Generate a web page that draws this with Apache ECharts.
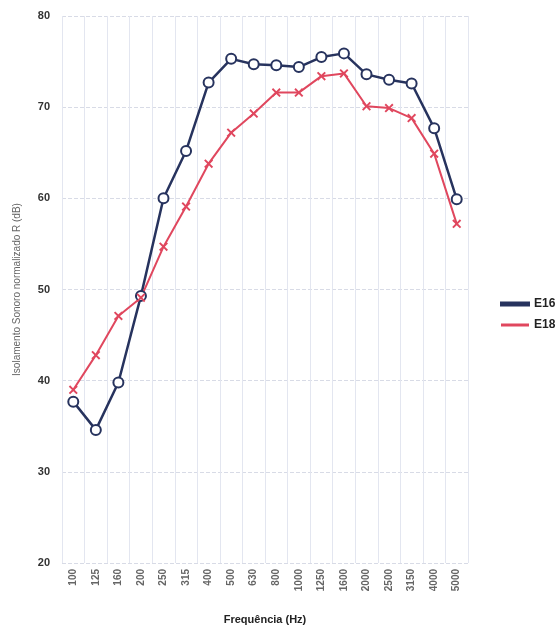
<!DOCTYPE html>
<html>
<head>
<meta charset="utf-8">
<script src="https://cdn.jsdelivr.net/npm/echarts@6/dist/echarts.min.js"></script>
<style>html,body{margin:0;padding:0;background:#fff;}#c{width:559px;height:627px;}</style>
</head>
<body>
<div id="c"></div>
<script>
var categories = ['100','125','160','200','250','315','400','500','630','800','1000','1250','1600','2000','2500','3150','4000','5000'];
var e16 = [37.7, 34.6, 39.8, 49.3, 60.0, 65.2, 72.7, 75.3, 74.7, 74.6, 74.4, 75.5, 75.9, 73.6, 73.0, 72.6, 67.7, 59.9];
var e18 = [39.0, 42.8, 47.1, 49.1, 54.7, 59.1, 63.8, 67.2, 69.3, 71.6, 71.6, 73.4, 73.7, 70.1, 69.9, 68.8, 64.9, 57.2];
var yTicks = [20, 30, 40, 50, 60, 70, 80];

var xMark = 'path://M0,1.5 L1.5,0 L5,3.5 L8.5,0 L10,1.5 L6.5,5 L10,8.5 L8.5,10 L5,6.5 L1.5,10 L0,8.5 L3.5,5 Z';
var chart = echarts.init(document.getElementById('c'), null, {renderer: 'canvas'});
chart.setOption({
  backgroundColor: '#fff',
  animation: false,
  grid: {left: 62, right: 91, top: 16, bottom: 64, outerBoundsMode: 'none', containLabel: false},
  legend: {
    orient: 'vertical', left: 495, top: 293, itemGap: 9,
    itemWidth: 28, itemHeight: 3, icon: 'rect',
    textStyle: {fontFamily: 'Liberation Sans', fontWeight: 'bold', fontSize: 12, color: '#222'},
    data: [{name: 'E16', itemStyle: {color: '#27335e'}}, {name: 'E18', itemStyle: {color: '#e0475e'}}]
  },
  xAxis: {
    type: 'category', data: categories, boundaryGap: true,
    name: 'Frequência (Hz)', nameLocation: 'middle', nameGap: 51,
    nameTextStyle: {fontFamily: 'Liberation Sans', fontWeight: 'bold', fontSize: 11, color: '#222'},
    axisLine: {show: false}, axisTick: {show: false},
    axisLabel: {rotate: 90, fontFamily: 'Liberation Sans', fontWeight: 'bold', fontSize: 10, color: '#666', margin: 6, interval: 0},
    splitLine: {show: true, lineStyle: {color: '#e3e6f0', width: 1}}
  },
  yAxis: {
    type: 'value', min: yTicks[0], max: yTicks[yTicks.length - 1], interval: 10,
    name: 'Isolamento Sonoro normalizado R (dB)', nameLocation: 'middle', nameGap: 40,
    nameTextStyle: {fontFamily: 'Liberation Sans', fontSize: 10, color: '#666'},
    axisLine: {show: false}, axisTick: {show: false},
    axisLabel: {fontFamily: 'Liberation Sans', fontWeight: 'bold', fontSize: 11, color: '#333', margin: 12},
    splitLine: {show: true, lineStyle: {color: '#d8dbe6', type: 'dashed', width: 1}}
  },
  series: [
    {
      name: 'E16', type: 'line', data: e16,
      symbol: 'emptyCircle', symbolSize: 10,
      lineStyle: {color: '#27335e', width: 2.5},
      itemStyle: {color: '#27335e', borderColor: '#27335e', borderWidth: 1.8}
    },
    {
      name: 'E18', type: 'line', data: e18,
      symbol: xMark, symbolSize: 9,
      lineStyle: {color: '#e0475e', width: 2},
      itemStyle: {color: '#e0475e'}
    }
  ]
});
</script>
</body>
</html>
